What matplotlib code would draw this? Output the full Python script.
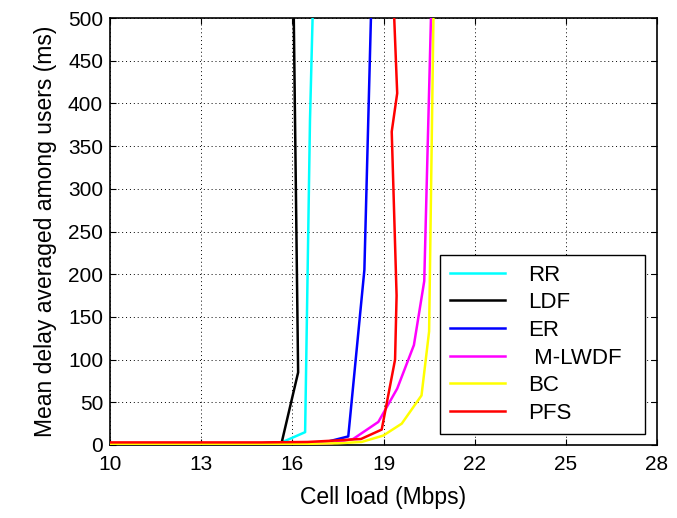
import matplotlib
matplotlib.use("Agg")
import matplotlib.pyplot as plt

plt.rcParams['font.family'] = ['Liberation Sans', 'DejaVu Sans']

# ---- data ----
rr_x = [10, 13, 15.0, 15.65, 16.42, 16.58, 16.68]
rr_y = [2, 2, 2, 3, 15, 380, 520]

ldf_x = [10, 13, 15.0, 15.65, 16.19, 16.04]
ldf_y = [2, 2, 2, 3, 85, 520]

er_x = [10, 13, 16.0, 16.9, 17.84, 18.37, 18.6]
er_y = [0.5, 0.5, 0.5, 1.5, 10, 205, 520]

mlwdf_x = [10, 13, 16.0, 17.3, 18.0, 18.83, 19.45, 20.0, 20.34, 20.575]
mlwdf_y = [0.5, 0.5, 0.5, 2, 7, 27, 66, 117, 192, 520]

bc_x = [10, 13, 16.0, 17.5, 18.28, 18.99, 19.6, 20.25, 20.5, 20.65]
bc_y = [1, 1, 1, 2, 3.5, 11, 25, 58, 133, 520]

pfs_x = [10, 13, 15.0, 16.5, 17.3, 18.26, 18.94, 19.38, 19.43, 19.27, 19.45, 19.33]
pfs_y = [3, 3, 3, 3.5, 5, 7, 18, 100, 175, 367, 412, 520]

labels = ['RR', 'LDF', 'ER', ' M-LWDF', 'BC', 'PFS']
colors = ['#00FFFF', '#000000', '#0000FF', '#FF00FF', '#FFFF00', '#FF0000']
xticks = [10, 13, 16, 19, 22, 25, 28]
yticks = [0, 50, 100, 150, 200, 250, 300, 350, 400, 450, 500]

series = [(rr_x, rr_y), (ldf_x, ldf_y), (er_x, er_y),
          (mlwdf_x, mlwdf_y), (bc_x, bc_y), (pfs_x, pfs_y)]

fig = plt.figure(figsize=(6.77, 5.18), dpi=100)
ax = fig.add_axes([0.1625, 0.141, 0.808, 0.824])

handles = []
for (x, y), c, lab in zip(series, colors, labels):
    h, = ax.plot(x, y, color=c, lw=1.8, label=lab, zorder=3)
    handles.append(h)

ax.set_xlim(10, 28)
ax.set_ylim(0, 500)
ax.set_xticks(xticks)
ax.set_yticks(yticks)
ax.tick_params(direction='in', length=4, width=0.8, labelsize=15,
               top=True, right=True, pad=5)
ax.tick_params(axis='x', pad=7)
ax.grid(True, linestyle=(0, (1, 3)), color='black', lw=0.7)
for s in ax.spines.values():
    s.set_linewidth(1.2)

ax.set_xlabel('Cell load (Mbps)', fontsize=16.5, labelpad=9)
ax.set_ylabel('Mean delay averaged among users (ms)', fontsize=16.5, labelpad=8)

leg = ax.legend(handles, labels,
                loc='lower left', bbox_to_anchor=(0.603, 0.026, 0.375, 0.419),
                mode='expand', borderaxespad=0, fontsize=16, handlelength=2.5,
                handletextpad=1.0, labelspacing=0.3, borderpad=0.45,
                fancybox=False, framealpha=1, edgecolor='black')
leg.get_frame().set_linewidth(1.0)
leg.set_zorder(5)

fig.savefig('out.png', dpi=100)
